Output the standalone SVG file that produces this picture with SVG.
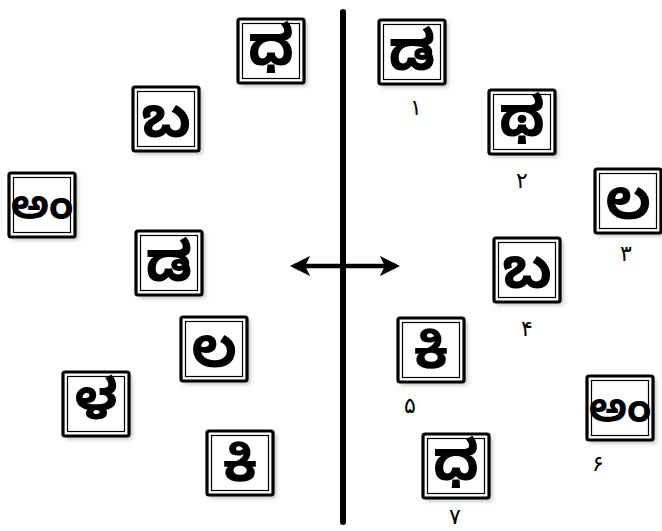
<svg xmlns="http://www.w3.org/2000/svg" width="662" height="531" viewBox="0 0 662 531">
<defs>
<filter id="sh" x="-20%" y="-20%" width="150%" height="150%"><feGaussianBlur stdDeviation="2"/></filter>
<g id="box">
<rect x="3" y="3" width="66" height="64" fill="#bbb" filter="url(#sh)"/>
<rect x="0" y="0" width="66" height="64" fill="#fff" stroke="#000" stroke-width="3.2" rx="2"/>
<rect x="4.5" y="4.5" width="57" height="55" fill="none" stroke="#000" stroke-width="1.2"/>
</g>
<marker id="ah" viewBox="0 0 10 10" refX="8" refY="5" markerWidth="4.5" markerHeight="4.5" orient="auto-start-reverse"><path d="M0,0 L10,5 L0,10 L2.5,5 Z" fill="#000"/></marker>
</defs>
<style>
.k{font-family:"Noto Sans Kannada","Noto Sans","DejaVu Sans",sans-serif;font-size:56px;font-weight:bold;text-anchor:middle;fill:#000}
.w{font-size:40px}
.n{font-family:"DejaVu Sans","Noto Sans",sans-serif;font-size:22px;text-anchor:middle;fill:#000}
</style>
<rect width="662" height="531" fill="#fff"/>
<g id="connectors">
<line x1="343" y1="12" x2="343" y2="522" stroke="#000" stroke-width="6" stroke-linecap="round"/>
<line x1="294" y1="266" x2="396" y2="266" stroke="#000" stroke-width="4.5" marker-start="url(#ah)" marker-end="url(#ah)"/>
</g>
<g id="L1" transform="translate(238,19)"><use href="#box"/><text class="k" x="33" y="46">ಧ</text></g>
<g id="L2" transform="translate(133,87)"><use href="#box"/><text class="k" x="33" y="50">ಬ</text></g>
<g id="L3" transform="translate(9,173)"><use href="#box"/><text class="k w" x="33" y="46">ಅಂ</text></g>
<g id="L4" transform="translate(136,231)"><use href="#box"/><text class="k" x="33" y="50">ಡ</text></g>
<g id="L5" transform="translate(181,317)"><use href="#box"/><text class="k" x="33" y="50">ಲ</text></g>
<g id="L6" transform="translate(63,372)"><use href="#box"/><text class="k" x="33" y="47">ಳ</text></g>
<g id="L7" transform="translate(207,431)"><use href="#box"/><text class="k" x="33" y="50">ಕಿ</text></g>
<g id="R1" transform="translate(379,20)"><use href="#box"/><text class="k" x="33" y="50">ಡ</text><text class="n" x="37" y="95">۱</text></g>
<g id="R2" transform="translate(489,90)"><use href="#box"/><text class="k" x="33" y="46">ಥ</text><text class="n" x="33" y="98">۲</text></g>
<g id="R3" transform="translate(595,169)"><use href="#box"/><text class="k" x="33" y="50">ಲ</text><text class="n" x="31" y="92">۳</text></g>
<g id="R4" transform="translate(494,238)"><use href="#box"/><text class="k" x="33" y="50">ಬ</text><text class="n" x="33" y="98">۴</text></g>
<g id="R5" transform="translate(398,318)"><use href="#box"/><text class="k" x="33" y="50">ಕಿ</text><text class="n" x="12" y="95">۵</text></g>
<g id="R6" transform="translate(587,376)"><use href="#box"/><text class="k w" x="33" y="46">ಅಂ</text><text class="n" x="11" y="95">۶</text></g>
<g id="R7" transform="translate(423,434)"><use href="#box"/><text class="k" x="33" y="46">ಧ</text><text class="n" x="32" y="90">۷</text></g>
</svg>
